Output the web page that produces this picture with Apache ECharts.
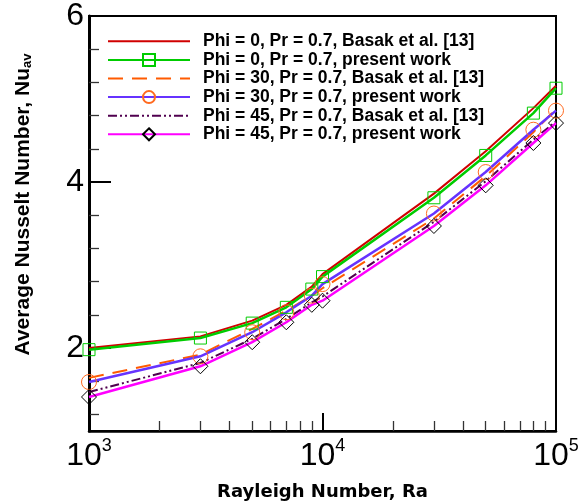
<!DOCTYPE html>
<html><head><meta charset="utf-8">
<script src="https://cdn.jsdelivr.net/npm/echarts@6/dist/echarts.min.js"></script>
<style>html,body{margin:0;padding:0;background:#fff}#c{width:578px;height:501px}</style>
</head><body><div id="c"></div>
<script>
// Rayleigh numbers
const RA = [1000, 3000, 5000, 7000, 9000, 10000, 30000, 50000, 80000, 100000];
// Average Nusselt numbers
const PHI0_BASAK    = [2.00, 2.14, 2.33, 2.52, 2.74, 2.89, 3.86, 4.37, 4.89, 5.16];
const PHI0_PRESENT  = [1.98, 2.12, 2.30, 2.49, 2.71, 2.86, 3.81, 4.32, 4.83, 5.13];
const PHI30_BASAK   = [1.64, 1.92, 2.23, 2.45, 2.63, 2.72, 3.56, 4.07, 4.60, 4.88];
const PHI30_PRESENT = [1.59, 1.90, 2.19, 2.43, 2.63, 2.77, 3.62, 4.12, 4.63, 4.86];
const PHI45_BASAK   = [1.47, 1.82, 2.11, 2.35, 2.55, 2.62, 3.52, 4.01, 4.51, 4.73];
const PHI45_PRESENT = [1.41, 1.78, 2.07, 2.31, 2.52, 2.57, 3.47, 3.96, 4.47, 4.71];

const SERIES_NAMES = [
  'Phi = 0, Pr = 0.7, Basak et al. [13]',
  'Phi = 0, Pr = 0.7, present work',
  'Phi = 30, Pr = 0.7, Basak et al. [13]',
  'Phi = 30, Pr = 0.7, present work',
  'Phi = 45, Pr = 0.7, Basak et al. [13]',
  'Phi = 45, Pr = 0.7, present work'
];
const X_MINOR_TICKS = [2000, 3000, 4000, 5000, 6000, 7000, 8000, 9000,
                       20000, 30000, 40000, 50000, 60000, 70000, 80000, 90000];
const Y_LABELS = [2, 4, 6];
const Y_MAJOR_TICKS = [2, 4];
const Y_MINOR_TICKS = [1.2, 1.6, 2.4, 2.8, 3.2, 3.6, 4.4, 4.8, 5.2, 5.6];
const X_TITLE = 'Rayleigh Number, Ra';
const Y_TITLE = 'Average Nusselt Number, Nu';
const Y_TITLE_SUB = 'av';

const FONT = 'Liberation Sans, Arial, Helvetica, sans-serif';
const WIDE_FONT = 'DejaVu Sans, Liberation Sans, Arial, sans-serif';
const pairs = arr => RA.map((r, i) => [r, arr[i]]);
const NOFILL = 'rgba(0,0,0,0)';

const chart = echarts.init(document.getElementById('c'));
chart.setOption({
  animation: false,
  backgroundColor: '#fff',
  grid: {left: 89, right: 22, top: 16, bottom: 70, outerBoundsMode: 'none', containLabel: false,
         show: true, borderColor: '#000', borderWidth: 2, backgroundColor: 'transparent'},
  legend: {
    orient: 'vertical', left: 107, top: 32, padding: 0, itemWidth: 82, itemHeight: 15, itemGap: 0,
    data: SERIES_NAMES,
    textStyle: {fontFamily: FONT, fontSize: 17.5, fontWeight: 'bold', color: '#000', lineHeight: 18.6, padding: [0, 0, 0, 8]}
  },
  xAxis: [{
    type: 'log', logBase: 10, min: 1000, max: 100000,
    name: X_TITLE, nameLocation: 'middle', nameGap: 52,
    nameTextStyle: {fontFamily: WIDE_FONT, fontSize: 18, fontWeight: 'bold', color: '#000'},
    axisLine: {lineStyle: {color: '#000', width: 2.5}},
    axisTick: {inside: true, length: 18, lineStyle: {color: '#000', width: 2}},
    splitLine: {show: false},
    axisLabel: {
      margin: 6, showMinLabel: true, showMaxLabel: true,
      formatter: v => '{b|10}{s|' + Math.round(Math.log10(v)) + '}',
      rich: {
        b: {fontFamily: FONT, fontSize: 32, color: '#000', lineHeight: 32, padding: [6, 0, 0, 0]},
        s: {fontFamily: FONT, fontSize: 18, color: '#000', verticalAlign: 'top', lineHeight: 18}
      }
    }
  }, {
    type: 'value', min: 3, max: 5, position: 'bottom', gridIndex: 0,
    axisLine: {show: false}, splitLine: {show: false},
    axisLabel: {show: false, customValues: X_MINOR_TICKS.map(Math.log10)},
    axisTick: {inside: true, length: 10, customValues: X_MINOR_TICKS.map(Math.log10), lineStyle: {color: '#333', width: 1.3}}
  }],
  yAxis: [{
    type: 'value', min: 1, max: 6,
    name: '{a|' + Y_TITLE + '}{s|' + Y_TITLE_SUB + '}',
    nameLocation: 'middle', nameRotate: 90, nameGap: 55,
    nameTextStyle: {
      padding: [0, 0, 0, 38],
      rich: {
        a: {fontFamily: FONT, fontSize: 21, fontWeight: 'bold', color: '#000'},
        s: {fontFamily: FONT, fontSize: 13, fontWeight: 'bold', color: '#000', verticalAlign: 'bottom'}
      }
    },
    axisLine: {lineStyle: {color: '#000', width: 3}},
    axisTick: {inside: true, length: 22, customValues: Y_MAJOR_TICKS, lineStyle: {color: '#000', width: 2}},
    splitLine: {show: false},
    axisLabel: {customValues: Y_LABELS, margin: 5, fontFamily: FONT, fontSize: 32, color: '#000'}
  }, {
    type: 'value', min: 1, max: 6, position: 'left', offset: 0,
    axisLine: {show: false}, splitLine: {show: false},
    axisLabel: {show: false, customValues: Y_MINOR_TICKS},
    axisTick: {inside: true, length: 10, customValues: Y_MINOR_TICKS, lineStyle: {color: '#333', width: 1.3}}
  }],
  series: [
    {name: SERIES_NAMES[0], type: 'line', data: pairs(PHI0_BASAK), symbol: 'none',
     lineStyle: {color: '#d00000', width: 2}, itemStyle: {color: NOFILL, borderWidth: 0}},
    {name: SERIES_NAMES[1], type: 'line', data: pairs(PHI0_PRESENT), symbol: 'rect', symbolSize: 12,
     lineStyle: {color: '#00cc00', width: 2.5}, itemStyle: {color: NOFILL, borderColor: '#00cc00', borderWidth: 1}},
    {name: SERIES_NAMES[2], type: 'line', data: pairs(PHI30_BASAK), symbol: 'none',
     lineStyle: {color: '#ff5a00', width: 2, type: [15, 9]}, itemStyle: {color: NOFILL, borderWidth: 0}},
    {name: SERIES_NAMES[3], type: 'line', data: pairs(PHI30_PRESENT), symbol: 'circle', symbolSize: 15,
     lineStyle: {color: '#6633ff', width: 2.5}, itemStyle: {color: NOFILL, borderColor: '#ff6a20', borderWidth: 1}},
    {name: SERIES_NAMES[4], type: 'line', data: pairs(PHI45_BASAK), symbol: 'none',
     lineStyle: {color: '#50004f', width: 2, type: [9, 3, 2, 3, 2, 3]}, itemStyle: {color: NOFILL, borderWidth: 0}},
    {name: SERIES_NAMES[5], type: 'line', data: pairs(PHI45_PRESENT), symbol: 'diamond', symbolSize: 15,
     lineStyle: {color: '#ff00ff', width: 2.5}, itemStyle: {color: NOFILL, borderColor: '#000', borderWidth: 1}}
  ]
});
</script>
</body></html>
